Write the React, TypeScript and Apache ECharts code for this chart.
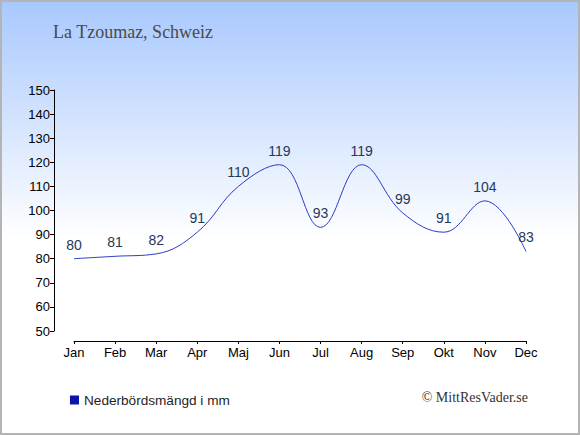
import React, { useEffect, useRef } from "react";
import * as echarts from "echarts";

const months = ["Jan", "Feb", "Mar", "Apr", "Maj", "Jun", "Jul", "Aug", "Sep", "Okt", "Nov", "Dec"];
const precipitation = [80, 81, 82, 91, 110, 119, 93, 119, 99, 91, 104, 83];
const titleText = "La Tzoumaz, Schweiz";
const seriesName = "Nederbördsmängd i mm";
const copyright = "© MittResVader.se";

export default function App() {
  const ref = useRef<HTMLDivElement>(null);
  useEffect(() => {
    document.body.style.margin = "0";
    const chart = echarts.init(ref.current!, null, { renderer: "svg" });
    chart.setOption({
      animation: false,
      backgroundColor: new echarts.graphic.LinearGradient(0, 0, 0, 1, [
        { offset: 0, color: "#a8c8fe" },
        { offset: 0.55, color: "#ffffff" },
        { offset: 1, color: "#ffffff" },
      ]),
      title: {
        text: titleText,
        left: 48,
        top: 18,
        textStyle: {
          fontFamily: "Liberation Serif",
          fontSize: 18,
          fontWeight: "normal",
          color: "#4a4a4a",
        },
      },
      legend: {
        data: [{ name: seriesName, icon: "rect" }],
        left: 70,
        top: 393,
        padding: 0,
        itemWidth: 9,
        itemHeight: 9,
        itemGap: 6,
        textStyle: { fontFamily: "Liberation Sans", fontSize: 13.6, color: "#1e1e1e" },
      },
      grid: { left: 74, right: 54, top: 90, bottom: 104, containLabel: false },
      xAxis: {
        type: "category",
        data: months,
        boundaryGap: false,
        offset: 10,
        axisLine: { lineStyle: { color: "#000", width: 1 } },
        axisTick: { show: true, length: 3, lineStyle: { color: "#000" } },
        axisLabel: { fontFamily: "Liberation Sans", fontSize: 13, color: "#000", margin: 5 },
      },
      yAxis: {
        type: "value",
        min: 50,
        max: 150,
        interval: 10,
        offset: 20,
        splitLine: { show: false },
        axisLine: { show: true, lineStyle: { color: "#000", width: 1 } },
        axisTick: { show: true, length: 4, lineStyle: { color: "#000" } },
        axisLabel: { fontFamily: "Liberation Sans", fontSize: 13, color: "#000", margin: 4 },
      },
      series: [
        {
          name: seriesName,
          type: "line",
          data: precipitation,
          smooth: 0.4,
          symbol: "circle",
          symbolSize: 0,
          showSymbol: true,
          color: "#0a14a8",
          lineStyle: { color: "#2a3cc8", width: 1 },
          label: {
            show: true,
            position: "top",
            distance: 7,
            fontFamily: "Liberation Sans",
            fontSize: 14,
            color: "#24385a",
          },
        },
      ],
      graphic: [
        {
          type: "text",
          right: 52,
          top: 390,
          style: {
            text: copyright,
            font: "14px 'Liberation Serif'",
            fill: "#333",
          },
        },
        {
          type: "rect",
          shape: { x: 1, y: 1, width: 578, height: 433 },
          style: { fill: "none", stroke: "#b4b4b4", lineWidth: 2 },
          z: 100,
        },
      ],
    });
    return () => chart.dispose();
  }, []);
  return <div ref={ref} style={{ width: 580, height: 435 }} />;
}
